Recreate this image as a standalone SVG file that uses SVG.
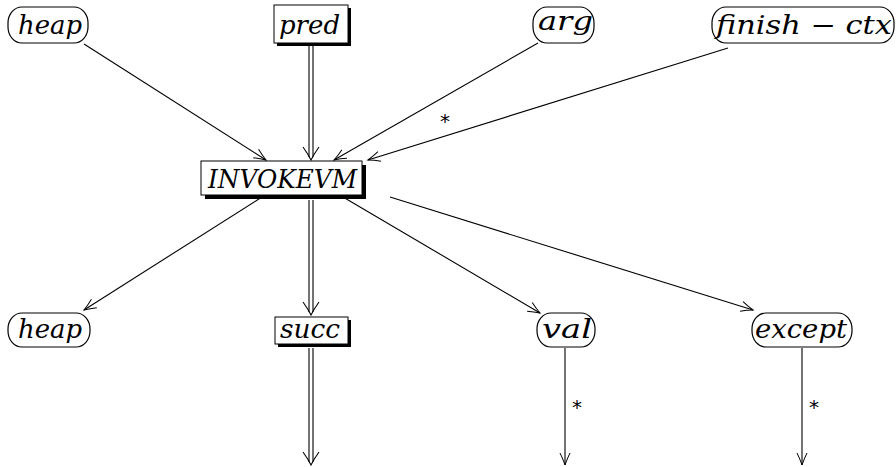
<svg xmlns="http://www.w3.org/2000/svg" width="896" height="467" viewBox="0 0 896 467">
<defs>
<marker id="ah" markerUnits="userSpaceOnUse" markerWidth="16" markerHeight="14" refX="13" refY="7" orient="auto">
<path d="M1,2 Q7,5 13,7 Q7,9 1,12" fill="none" stroke="#000" stroke-width="1"/>
</marker>
</defs>
<style>
.rnd{fill:#fff;stroke:#000;stroke-width:1.2}
.sq{fill:#fff;stroke:#000;stroke-width:1}
.sh{fill:#000}
.t{font-family:"DejaVu Serif","Liberation Serif",serif;font-style:italic;font-weight:normal;font-size:26px;fill:#000}
.e{fill:none;stroke:#000;stroke-width:1.1}
.lab{font-family:"DejaVu Sans",sans-serif;font-size:20px;fill:#000}
</style>
<rect width="896" height="467" fill="#fff"/>
<g id="heap_in"><rect class="rnd" x="8" y="7" width="80" height="36" rx="14" ry="16"/><text class="t" x="18" y="34" textLength="64" lengthAdjust="spacingAndGlyphs">heap</text></g>
<g id="pred"><rect class="sh" x="277" y="8" width="74" height="38"/><rect class="sq" x="274" y="5" width="74" height="38"/><text class="t" x="279" y="34" textLength="61" lengthAdjust="spacingAndGlyphs">pred</text></g>
<g id="arg"><rect class="rnd" x="533" y="7" width="61" height="36" rx="14" ry="16"/><text class="t" x="538" y="30" textLength="55" lengthAdjust="spacingAndGlyphs">arg</text></g>
<g id="finish_ctx"><rect class="rnd" x="712" y="7" width="182" height="36" rx="14" ry="16"/><text class="t" x="716" y="34" textLength="176" lengthAdjust="spacingAndGlyphs">finish − ctx</text></g>
<g id="invokevm"><rect class="sh" x="205" y="165" width="161" height="34"/><rect class="sq" x="201" y="161" width="161" height="34"/><text class="t" x="208" y="188" textLength="149" lengthAdjust="spacingAndGlyphs">INVOKEVM</text></g>
<g id="heap_out"><rect class="rnd" x="8" y="313" width="82" height="34" rx="14" ry="16"/><text class="t" x="18" y="338" textLength="64" lengthAdjust="spacingAndGlyphs">heap</text></g>
<g id="succ"><rect class="sh" x="278" y="320" width="73" height="27"/><rect class="sq" x="275" y="317" width="73" height="27"/><text class="t" x="280" y="338" textLength="60" lengthAdjust="spacingAndGlyphs">succ</text></g>
<g id="val"><rect class="rnd" x="537" y="313" width="58" height="34" rx="14" ry="16"/><text class="t" x="542" y="338" textLength="50" lengthAdjust="spacingAndGlyphs">val</text></g>
<g id="except"><rect class="rnd" x="752" y="313" width="100" height="34" rx="14" ry="16"/><text class="t" x="755" y="338" textLength="92" lengthAdjust="spacingAndGlyphs">except</text></g>
<g id="connectors">
<line class="e" x1="84" y1="44" x2="266" y2="160" marker-end="url(#ah)"/>
<line class="e" x1="309" y1="46" x2="309" y2="157"/><line class="e" x1="313" y1="46" x2="313" y2="157"/>
<path class="e" d="M303,147 Q308,154 311,160 Q314,154 319,147"/>
<line class="e" x1="538" y1="43" x2="334" y2="160" marker-end="url(#ah)"/>
<line class="e" x1="728" y1="48" x2="368" y2="160" marker-end="url(#ah)"/>
<text class="lab" x="440" y="128">*</text>
<line class="e" x1="262" y1="197" x2="84" y2="310" marker-end="url(#ah)"/>
<line class="e" x1="309" y1="200" x2="309" y2="312"/><line class="e" x1="313" y1="200" x2="313" y2="312"/>
<path class="e" d="M303,302 Q308,309 311,315 Q314,309 319,302"/>
<line class="e" x1="343" y1="197" x2="540" y2="313" marker-end="url(#ah)"/>
<line class="e" x1="390" y1="197" x2="753" y2="310" marker-end="url(#ah)"/>
<line class="e" x1="309" y1="348" x2="309" y2="462"/><line class="e" x1="313" y1="348" x2="313" y2="462"/>
<path class="e" d="M303,452 Q308,459 311,465 Q314,459 319,452"/>
<line class="e" x1="565" y1="348" x2="565" y2="465" marker-end="url(#ah)"/>
<text class="lab" x="572" y="414">*</text>
<line class="e" x1="802" y1="348" x2="802" y2="465" marker-end="url(#ah)"/>
<text class="lab" x="809" y="414">*</text>
</g>
</svg>
